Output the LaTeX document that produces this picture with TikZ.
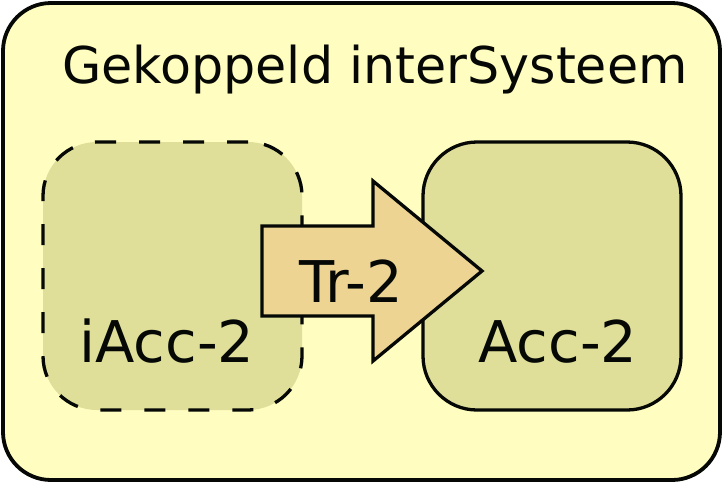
\documentclass[tikz,border=0pt]{standalone}
\usepackage{fontspec}
\setmainfont{DejaVu Sans}
\definecolor{outerfill}{HTML}{FFFDC0}
\definecolor{boxfill}{HTML}{DFDF99}
\definecolor{arrowfill}{HTML}{EDD493}
\definecolor{ink}{HTML}{050805}
\begin{document}
\begin{tikzpicture}[x=1pt,y=-1pt,
  outerbox/.style={draw=ink,line width=3.8pt,fill=outerfill,rounded corners=48pt,inner sep=0pt},
  accbox/.style={draw=ink,line width=3.3pt,fill=boxfill,rounded corners=54pt,inner sep=0pt,minimum width=259pt,minimum height=268pt},
  dashbox/.style={accbox,dash pattern=on 21pt off 23pt},
  blockarrow/.style={draw=ink,line width=3.3pt,fill=arrowfill,line join=miter},
  lbl/.style={anchor=base,inner sep=0pt,text=ink,font=\fontsize{57.5}{60}\selectfont},
  ttl/.style={anchor=base,inner sep=0pt,text=ink,font=\fontsize{50.7}{56}\selectfont}]
\useasboundingbox (0,0) rectangle (723,483);
\node[outerbox,minimum width=717pt,minimum height=477pt] (outer) at (361.5,241.5) {};
\node[ttl] (title) at (375,83) {Gekoppeld interSysteem};
\node[dashbox] (iacc) at (172.5,276) {};
\node[accbox,minimum width=258pt] (acc) at (552,276) {};
\coordinate (a1) at (262,226);
\coordinate (a2) at (373,226);
\coordinate (a3) at (373,181);
\coordinate (tip) at (482,271);
\coordinate (a5) at (373,361);
\coordinate (a6) at (373,316);
\coordinate (a7) at (262,316);
\draw[blockarrow] (a1) -- (a2) -- (a3) -- (tip) -- (a5) -- (a6) -- (a7) -- cycle;
\node[lbl] (tr) at (351,302) {Tr-2};
\node[lbl] (iacclbl) at (167,362) {iAcc-2};
\node[lbl] (acclbl) at (558,362) {Acc-2};
\end{tikzpicture}
\end{document}
